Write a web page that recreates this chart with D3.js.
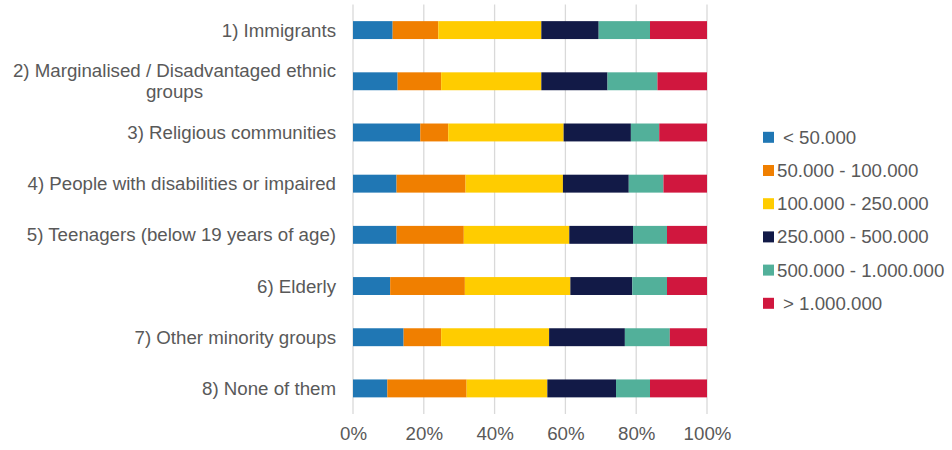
<!DOCTYPE html>
<html>
<head>
<meta charset="utf-8">
<script src="https://cdn.jsdelivr.net/npm/d3@7"></script>
<style>
  html, body { margin: 0; padding: 0; background: #fff; }
  svg { display: block; font-family: "Liberation Sans", Arial, sans-serif; }
</style>
</head>
<body>
<svg id="chart" width="952" height="450"></svg>
<script>
const categories = [
  "1) Immigrants",
  "2) Marginalised / Disadvantaged ethnic|groups",
  "3) Religious communities",
  "4) People with disabilities or impaired",
  "5) Teenagers (below 19 years of age)",
  "6) Elderly",
  "7) Other minority groups",
  "8) None of them"
];
const seriesNames = ["< 50.000", "50.000 - 100.000", "100.000 - 250.000", "250.000 - 500.000", "500.000 - 1.000.000", "> 1.000.000"];
const seriesColors = ["#2077b4", "#f07f00", "#ffcc00", "#121a47", "#52b09a", "#d0173e"];
const s1 = [11.2, 12.6, 19.0, 12.3, 12.3, 10.5, 14.3, 9.7];
const s2 = [12.9, 12.3, 7.9, 19.5, 19.0, 21.1, 10.6, 22.4];
const s3 = [29.1, 28.3, 32.6, 27.5, 29.8, 29.8, 30.5, 22.8];
const s4 = [16.2, 18.7, 19.0, 18.6, 18.0, 17.5, 21.4, 19.4];
const s5 = [14.5, 14.1, 8.0, 9.8, 9.6, 9.8, 12.7, 9.6];
const s6 = [16.1, 14.0, 13.5, 12.3, 11.3, 11.3, 10.5, 16.1];
const tickValues = [0, 0.2, 0.4, 0.6, 0.8, 1.0];

const series = [s1, s2, s3, s4, s5, s6];
const rows = categories.map((c, i) => {
  const o = { cat: c };
  seriesNames.forEach((n, j) => o[n] = series[j][i]);
  return o;
});
// normalize to 100%
rows.forEach(r => {
  const t = d3.sum(seriesNames, n => r[n]);
  seriesNames.forEach(n => r[n] = r[n] / t);
});
const stack = d3.stack().keys(seriesNames)(rows);

const FS = "18.7px";
const svg = d3.select("#chart");
const margin = { left: 353, right: 245, top: 4.5, bottom: 36 };
const W = 952, H = 450;
const x = d3.scaleLinear().domain([0, 1]).range([margin.left, W - margin.right]);
const y = d3.scaleBand().domain(categories).range([margin.top, H - margin.bottom]).paddingInner(0.65).paddingOuter(0.325);
const color = d3.scaleOrdinal().domain(seriesNames).range(seriesColors);

// gridlines
svg.append("g").selectAll("line").data(tickValues).join("line")
  .attr("x1", d => x(d)).attr("x2", d => x(d))
  .attr("y1", margin.top).attr("y2", H - margin.bottom)
  .attr("stroke", "#d9d9d9").attr("stroke-width", 1.3);

// x axis labels
const xAxis = d3.axisBottom(x).tickValues(tickValues).tickFormat(d3.format(".0%")).tickSize(0).tickPadding(13);
const gx = svg.append("g").attr("transform", `translate(0,${H - margin.bottom})`).call(xAxis);
gx.select(".domain").remove();
gx.selectAll("text").attr("fill", "#595959").style("font-size", FS).style("font-family", "'Liberation Sans', Arial, sans-serif");

// bars
svg.append("g").selectAll("g").data(stack).join("g")
  .attr("fill", d => color(d.key))
  .selectAll("rect").data(d => d).join("rect")
  .attr("x", d => x(d[0]))
  .attr("width", d => x(d[1]) - x(d[0]))
  .attr("y", d => y(d.data.cat))
  .attr("height", y.bandwidth());

// category labels
const yAxis = d3.axisLeft(y).tickSize(0).tickFormat("");
const gy = svg.append("g").attr("transform", `translate(${margin.left},0)`).call(yAxis);
gy.select(".domain").remove();
const labelRight = 336;
categories.forEach(c => {
  const lines = c.split("|");
  const cy = y(c) + y.bandwidth() / 2;
  const lh = 21;
  const g = svg.append("g");
  const texts = lines.map((l, i) => g.append("text")
    .text(l)
    .attr("y", cy + (i - (lines.length - 1) / 2) * lh)
    .attr("dy", "0.35em")
    .attr("fill", "#595959")
    .style("font-size", FS));
  const widths = texts.map(t => t.node().getComputedTextLength());
  const maxW = d3.max(widths);
  const center = labelRight - maxW / 2;
  texts.forEach(t => t.attr("x", center).attr("text-anchor", "middle"));
});

// legend
const legend = svg.append("g");
seriesNames.forEach((n, i) => {
  const ly = 137.3 + i * 33.2;
  legend.append("rect").attr("x", 763).attr("y", ly - 5.5).attr("width", 11).attr("height", 11).attr("fill", color(n));
  const lead = (i === 0 || i === seriesNames.length - 1) ? 783 : 777;
  legend.append("text").text(n).attr("x", lead).attr("y", ly).attr("dy", "0.35em")
    .attr("fill", "#595959").style("font-size", FS);
});
</script>
</body>
</html>
